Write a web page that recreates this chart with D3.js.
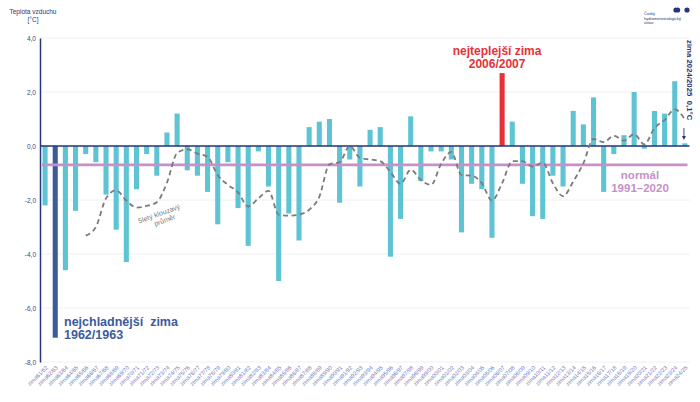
<!DOCTYPE html>
<html>

<head>
    <meta charset='utf-8'>
    <title>Zimy 1961/62 - 2024/25</title>
    <script type='text/javascript' src='https://cdn.jsdelivr.net/npm/d3@7'></script>
    <style>
        body { margin: 0; background: #fff; }
        text { font-family: 'Liberation Sans', Arial, sans-serif; }
    </style>
</head>

<body>
    <svg width='700' height='402'></svg>
    <script type='text/javascript'>

        // zimy 1961/62 .. 2024/25
        const winters = ['61/62', '62/63', '63/64', '64/65', '65/66', '66/67', '67/68', '68/69', '69/70', '70/71',
            '71/72', '72/73', '73/74', '74/75', '75/76', '76/77', '77/78', '78/79', '79/80', '80/81',
            '81/82', '82/83', '83/84', '84/85', '85/86', '86/87', '87/88', '88/89', '89/90', '90/91',
            '91/92', '92/93', '93/94', '94/95', '95/96', '96/97', '97/98', '98/99', '99/00', '00/01',
            '01/02', '02/03', '03/04', '04/05', '05/06', '06/07', '07/08', '08/09', '09/10', '10/11',
            '11/12', '12/13', '13/14', '14/15', '15/16', '16/17', '17/18', '18/19', '19/20', '20/21',
            '21/22', '22/23', '23/24', '24/25']
        const labels = winters.map(w => 'zima' + w)

        // průměrná teplota zimy [°C]
        const temps = [-2.2, -7.1, -4.6, -2.4, -0.3, -0.6, -1.8, -3.1, -4.3, -1.6,
            -0.3, -1.1, 0.5, 1.2, -0.9, -1.1, -1.7, -2.9, -0.6, -2.3,
            -3.7, -0.2, -1.5, -5.0, -2.5, -3.5, 0.7, 0.9, 1.0, -2.1,
            -0.5, -1.5, 0.6, 0.7, -4.1, -2.7, 1.1, -1.3, -0.2, -0.2,
            -0.5, -3.2, -1.4, -1.6, -3.4, 2.7, 0.9, -1.4, -2.6, -2.7,
            -1.1, -1.5, 1.3, 0.8, 1.8, -1.7, -0.3, 0.4, 2.0, -0.1,
            1.3, 1.2, 2.4, 0.1]

        // 5letý klouzavý průměr (od zimy 65/66)
        const movingAvg = [null, null, null, null, -3.32, -3.00, -1.94, -1.64, -2.02, -2.28,
            -2.22, -2.08, -1.36, -0.26, -0.12, -0.28, -0.40, -1.08, -1.44, -1.72,
            -2.24, -1.94, -1.66, -2.54, -2.58, -2.54, -2.36, -1.88, -0.68, -0.60,
            0.00, -0.44, -0.50, -0.56, -0.96, -1.40, -0.88, -1.26, -1.44, -0.66,
            -0.22, -1.08, -1.10, -1.38, -2.02, -1.38, -0.56, -0.56, -0.76, -0.62,
            -1.38, -1.86, -1.32, -0.64, 0.26, 0.14, 0.38, 0.20, 0.44, 0.06,
            0.66, 0.96, 1.36, 0.98]

        const normal = -0.7   // normál 1991–2020
        const yTicks = [4, 2, 0, -2, -4, -6, -8]
        const coldest = 'zima62/63'
        const warmest = 'zima06/07'

        const svg = d3.select('svg')
        const margin = { top: 38, left: 40, bottom: 40, right: 10 }
        const width = parseInt(svg.attr('width'))
        const height = parseInt(svg.attr('height'))

        const x = d3.scaleBand().domain(labels)
            .range([margin.left, width - margin.right])
            .paddingInner(0.5).paddingOuter(0.25)
        const y = d3.scaleLinear().domain([-8, 4]).range([height - margin.bottom, margin.top])

        const loc = d3.formatLocale({ decimal: ',', thousands: ' ', grouping: [3], currency: ['', ' Kč'], minus: '-' })
        const fmt = loc.format('.1f')

        const navy = '#263676'

        // mřížka
        svg.append('g').selectAll('line').data(yTicks).enter().append('line')
            .attr('x1', margin.left).attr('x2', width - margin.right)
            .attr('y1', d => y(d)).attr('y2', d => y(d))
            .attr('stroke', '#f0f0f2').attr('stroke-width', 1)

        // osa y
        const yAxis = svg.append('g').attr('transform', `translate(${margin.left},0)`)
            .call(d3.axisLeft(y).tickValues(yTicks).tickFormat(fmt).tickSize(0).tickPadding(4))
        yAxis.select('.domain').attr('stroke', navy).attr('stroke-width', 1.5)
        yAxis.selectAll('text').attr('font-size', 6.5).attr('fill', '#3b4684')
            .style('font-family', "'Liberation Sans', Arial, sans-serif")

        // osa x
        const xAxis = svg.append('g').attr('transform', `translate(0,${y(-8)})`)
            .call(d3.axisBottom(x).tickSize(0).tickPadding(0))
        xAxis.select('.domain').remove()
        xAxis.selectAll('text')
            .attr('font-size', 5.6).attr('fill', '#7479bd')
            .attr('text-anchor', 'end')
            .attr('dy', 0)
            .attr('transform', 'translate(3,6) rotate(-45)')
            .style('font-family', "'Liberation Sans', Arial, sans-serif")

        // sloupce
        svg.append('g').selectAll('rect').data(temps).enter().append('rect')
            .attr('x', (d, i) => x(labels[i]))
            .attr('width', x.bandwidth())
            .attr('y', d => y(Math.max(0, d)))
            .attr('height', d => Math.abs(y(d) - y(0)))
            .attr('fill', (d, i) => labels[i] === coldest ? '#3b5b9b' : labels[i] === warmest ? '#e6313a' : '#5ec4d3')

        // normál
        svg.append('line')
            .attr('x1', margin.left + 2).attr('x2', x(labels[labels.length - 1]) + x.bandwidth())
            .attr('y1', y(normal)).attr('y2', y(normal))
            .attr('stroke', '#c690c9').attr('stroke-width', 2.6)

        // nulová čára
        svg.append('line')
            .attr('x1', margin.left).attr('x2', x(labels[labels.length - 1]) + x.bandwidth() + 2)
            .attr('y1', y(0)).attr('y2', y(0))
            .attr('stroke', navy).attr('stroke-width', 1.5)

        // klouzavý průměr
        const line = d3.line()
            .defined(d => d !== null)
            .x((d, i) => x(labels[i]) + x.bandwidth() / 2)
            .y(d => y(d))
            .curve(d3.curveMonotoneX)
        svg.append('path')
            .datum(movingAvg)
            .attr('d', line)
            .attr('fill', 'none')
            .attr('stroke', '#7b7b7b').attr('stroke-width', 1.8)
            .attr('stroke-dasharray', '5,3.5')

        svg.append('text')
            .attr('transform', 'translate(160,216) rotate(-20)')
            .attr('text-anchor', 'middle').attr('font-size', 7).attr('fill', '#7d7d7d')
            .selectAll('tspan').data(['5letý klouzavý', 'průměr']).enter().append('tspan')
            .attr('x', (d, i) => i * 3).attr('dy', (d, i) => i ? 8 : 0).text(d => d)

        // popisky
        svg.append('text')
            .attr('x', 64).attr('y', 326)
            .attr('font-size', 12.5).attr('font-weight', 'bold').attr('fill', '#3b5b9b')
            .selectAll('tspan').data(['nejchladnější  zima', '1962/1963']).enter().append('tspan')
            .attr('x', 64).attr('dy', (d, i) => i ? 13 : 0).attr('xml:space', 'preserve').text(d => d)

        svg.append('text')
            .attr('y', 55)
            .attr('text-anchor', 'middle')
            .attr('font-size', 12).attr('font-weight', 'bold').attr('fill', '#e6313a')
            .selectAll('tspan').data(['nejteplejší zima', '2006/2007']).enter().append('tspan')
            .attr('x', x(warmest) + x.bandwidth() / 2 - 5).attr('dy', (d, i) => i ? 12.5 : 0).text(d => d)

        svg.append('text')
            .attr('y', 179)
            .attr('text-anchor', 'middle')
            .attr('font-size', 11.5).attr('font-weight', 'bold').attr('fill', '#c690c9')
            .selectAll('tspan').data(['normál', '1991–2020']).enter().append('tspan')
            .attr('x', 640).attr('dy', (d, i) => i ? 13.3 : 0).text(d => d)

        // poslední zima
        const lastX = x(labels[labels.length - 1]) + x.bandwidth() / 2
        svg.append('text')
            .attr('transform', `translate(${lastX + 2},40) rotate(90)`)
            .attr('font-size', 7.8).attr('font-weight', 'bold').attr('fill', navy)
            .attr('xml:space', 'preserve')
            .text('zima 2024/2025  0,1°C')
        svg.append('line')
            .attr('x1', lastX - 1).attr('x2', lastX - 1)
            .attr('y1', 128).attr('y2', 137)
            .attr('stroke', navy).attr('stroke-width', 0.9)
        svg.append('path')
            .attr('d', `M${lastX - 3},136 L${lastX + 1},136 L${lastX - 1},140 Z`)
            .attr('fill', navy)

        // název osy
        svg.append('text')
            .attr('x', 33).attr('y', 14)
            .attr('text-anchor', 'middle').attr('font-size', 6.5).attr('fill', navy)
            .selectAll('tspan').data(['Teplota vzduchu', '[°C]']).enter().append('tspan')
            .attr('x', 33).attr('dy', (d, i) => i ? 8 : 0).text(d => d)

        // logo ČHMÚ
        const logo = svg.append('g').attr('transform', 'translate(676,10)')
        logo.append('path').attr('d', 'M0,-2.6 A2.6,2.6 0 0,0 0,2.6 Z').attr('fill', navy)
        logo.append('circle').attr('cx', 1.6).attr('cy', 0).attr('r', 2.6).attr('fill', navy)
        logo.append('circle').attr('cx', 11).attr('cy', 0).attr('r', 2.6).attr('fill', navy)
        logo.append('text')
            .attr('font-size', 4).attr('fill', navy)
            .selectAll('tspan').data(['Český', 'hydrometeorologický', 'ústav']).enter().append('tspan')
            .attr('x', -32).attr('y', (d, i) => 5 + i * 4.5).text(d => d)
    </script>
</body>

</html>
